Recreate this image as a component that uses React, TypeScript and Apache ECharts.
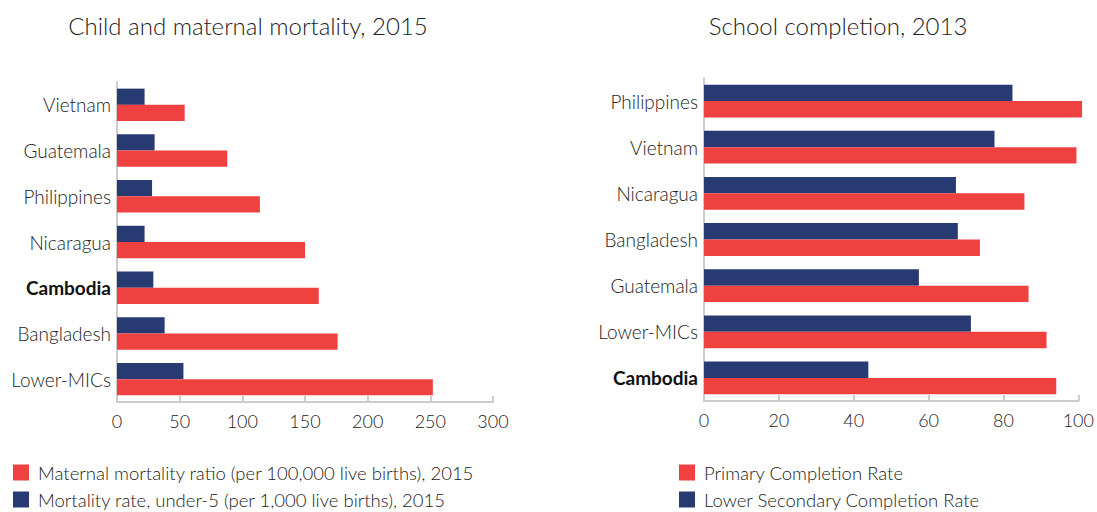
import React, { useEffect, useRef } from "react";
import * as echarts from "echarts";

const mortalityCategories = ["Vietnam", "Guatemala", "Philippines", "Nicaragua", "Cambodia", "Bangladesh", "Lower-MICs"];
const maternalMortality = [54, 88, 114, 150, 161, 176, 252];
const under5Mortality = [22, 30, 28, 22, 29, 38, 53];

const schoolCategories = ["Philippines", "Vietnam", "Nicaragua", "Bangladesh", "Guatemala", "Lower-MICs", "Cambodia"];
const primaryCompletion = [101, 99.5, 85.6, 73.7, 86.7, 91.5, 94.1];
const lowerSecondaryCompletion = [82.4, 77.6, 67.3, 67.8, 57.4, 71.3, 43.9];

const leftTitle = "Child and maternal mortality, 2015";
const rightTitle = "School completion, 2013";
const maternalName = "Maternal mortality ratio (per 100,000 live births), 2015";
const under5Name = "Mortality rate, under-5 (per 1,000 live births), 2015";
const primaryName = "Primary Completion Rate";
const secondaryName = "Lower Secondary Completion Rate";

const RED = "#EF4240";
const BLUE = "#283A72";
const FONT = "Lato";
const TEXT = "#222222";
const AXIS = "#cccccc";

export default function App() {
  const ref = useRef<HTMLDivElement>(null);
  useEffect(() => {
    if (!ref.current) return;
    const chart = echarts.init(ref.current, undefined, { renderer: "svg" });
    const catLabel = {
      color: TEXT,
      fontFamily: FONT,
      fontSize: 19,
      fontWeight: 300 as any,
      margin: 6,
      formatter: (v: string) => (v === "Cambodia" ? `{b|${v}}` : v),
      rich: { b: { fontWeight: "bold", fontFamily: FONT, fontSize: 19, color: "#111" } },
    };
    const valueAxisCommon = {
      type: "value" as const,
      splitLine: { show: false },
      axisLine: { show: true, lineStyle: { color: AXIS, width: 2 } },
      axisTick: { show: true, inside: true, length: 6, lineStyle: { color: AXIS, width: 2 } },
      axisLabel: { color: TEXT, fontFamily: FONT, fontSize: 18, fontWeight: 300 as any, margin: 10 },
    };
    const catAxisCommon = {
      type: "category" as const,
      inverse: true,
      axisLine: { show: true, lineStyle: { color: AXIS, width: 2 } },
      axisTick: { show: false },
      axisLabel: catLabel,
    };
    const barCommon = {
      type: "bar" as const,
      barGap: "0%",
      barCategoryGap: "29%",
      clip: false,
    };
    const legendItem = (name: string, left: number, top: number) => ({
      orient: "horizontal",
      left,
      top,
      padding: 0,
      itemWidth: 16,
      itemHeight: 16,
      icon: "rect",
      data: [name],
      textStyle: { fontFamily: FONT, fontSize: 18.5, fontWeight: 300, color: TEXT, padding: [0, 0, 0, 4] },
      selectedMode: false,
    });
    chart.setOption({
      animation: false,
      title: [
        {
          text: leftTitle,
          left: 243,
          top: 8,
          textAlign: "center",
          textStyle: { fontFamily: FONT, fontWeight: 300, fontSize: 24, color: TEXT },
        },
        {
          text: rightTitle,
          left: 833,
          top: 8,
          textAlign: "center",
          textStyle: { fontFamily: FONT, fontWeight: 300, fontSize: 24, color: TEXT },
        },
      ],
      legend: [
        legendItem(maternalName, 13, 463),
        legendItem(under5Name, 13, 490),
        legendItem(primaryName, 679, 463),
        legendItem(secondaryName, 679, 490),
      ],
      grid: [
        { left: 117, top: 82, width: 376, height: 320 },
        { left: 704, top: 78, width: 376, height: 323 },
      ],
      xAxis: [
        { ...valueAxisCommon, gridIndex: 0, min: 0, max: 300, interval: 50 },
        { ...valueAxisCommon, gridIndex: 1, min: 0, max: 100, interval: 20 },
      ],
      yAxis: [
        { ...catAxisCommon, gridIndex: 0, data: mortalityCategories },
        { ...catAxisCommon, gridIndex: 1, data: schoolCategories },
      ],
      series: [
        { ...barCommon, name: under5Name, xAxisIndex: 0, yAxisIndex: 0, data: under5Mortality, itemStyle: { color: BLUE } },
        { ...barCommon, name: maternalName, xAxisIndex: 0, yAxisIndex: 0, data: maternalMortality, itemStyle: { color: RED } },
        { ...barCommon, name: secondaryName, xAxisIndex: 1, yAxisIndex: 1, data: lowerSecondaryCompletion, itemStyle: { color: BLUE } },
        { ...barCommon, name: primaryName, xAxisIndex: 1, yAxisIndex: 1, data: primaryCompletion, itemStyle: { color: RED } },
      ],
    });
    return () => chart.dispose();
  }, []);
  return <div ref={ref} style={{ width: 1097, height: 512, position: "absolute", left: 0, top: 0 }} />;
}
